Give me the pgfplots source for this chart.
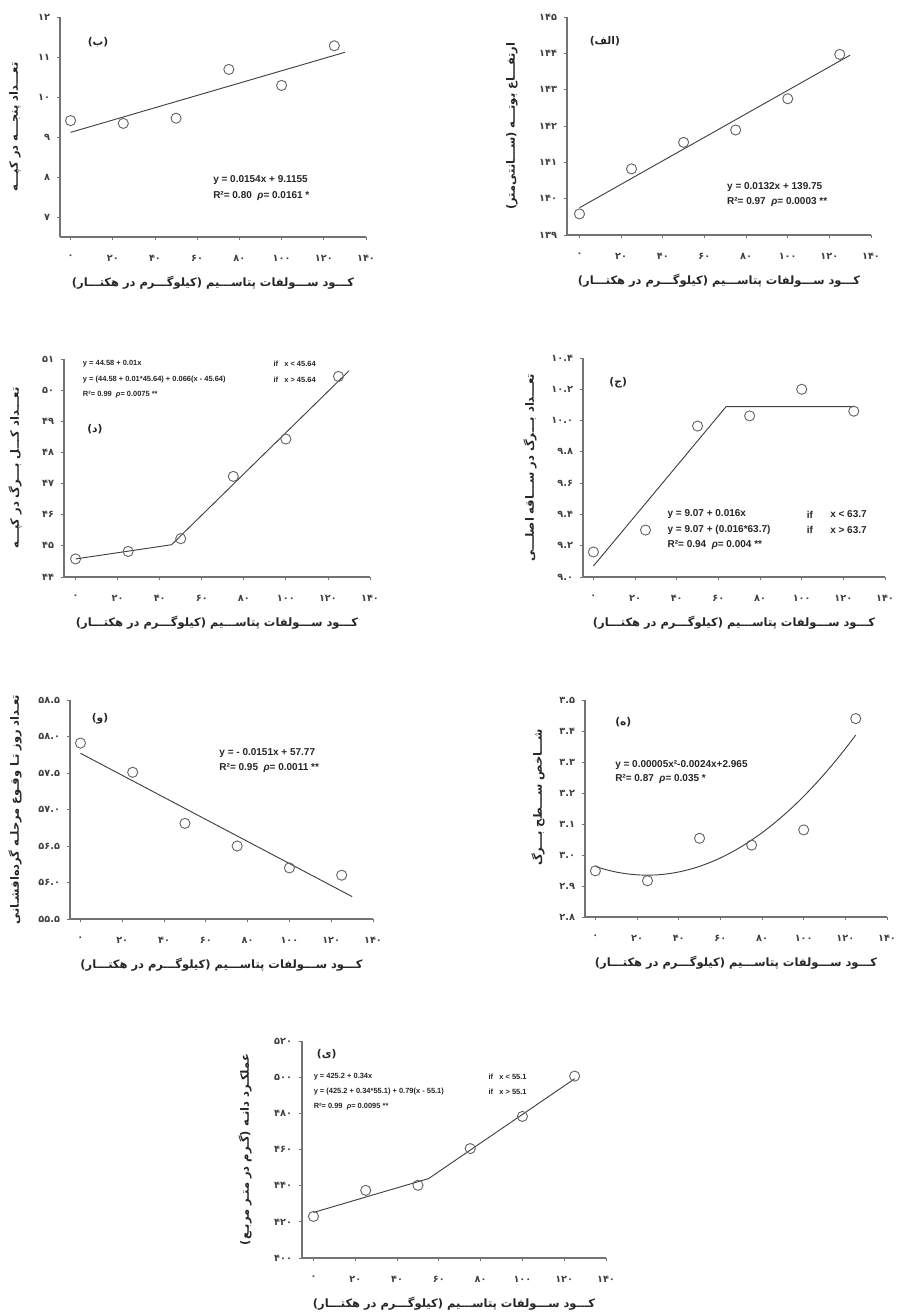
\documentclass[border=0pt]{standalone}
\usepackage{fontspec}
\usepackage{pgfplots}
\pgfplotsset{compat=1.18}
\TeXXeTstate=1
\newfontfamily\fa[Script=Arabic]{DejaVu Sans}
\newfontfamily\eqf{Liberation Sans}
\pgfplotsset{
  panel/.style={
    scale only axis,
    anchor=north west,
    axis x line*=bottom,
    axis y line*=left,
    xmax=140,
    xtick={0,20,40,60,80,100,120,140},
    xticklabels={۰,۲۰,۴۰,۶۰,۸۰,۱۰۰,۱۲۰,۱۴۰},
    tick align=outside,
    major tick length=2.5pt,
    axis line style={black!55, line width=0.8pt},
    tick style={black!55, line width=0.6pt},
    tick label style={font=\fa\bfseries\fontsize{7.3}{8}\selectfont, text=black!75},
    xticklabel style={yshift=-7.5pt},
    yticklabel style={xshift=-1.5pt},
    xlabel={\fa\bfseries\beginR کـــود ســـولفات پتاســـیم (کیلوگـــرم در هکتـــار)\endR},
    xlabel style={at={([yshift=-34.5pt]axis description cs:0.5,0)}, anchor=center, font=\fontsize{8.6}{9}\selectfont, text=black!85},
    ylabel style={anchor=center, font=\fontsize{8.6}{9}\selectfont, text=black!85},
    clip=false,
  },
  pts/.style={only marks, mark=o, mark size=3.8pt, mark options={black!60, line width=0.7pt}},
  fit/.style={black!75, line width=0.7pt, no marks},
}
\tikzset{
  eq/.style={anchor=west, font=\eqf\bfseries\fontsize{7.5}{9}\selectfont, text=black!85, inner sep=0pt},
  eqs/.style={anchor=west, font=\eqf\bfseries\fontsize{5.6}{7}\selectfont, text=black!85, inner sep=0pt},
  lett/.style={font=\fa\bfseries\fontsize{8}{9}\selectfont, text=black!85},
}
\begin{document}
\begin{tikzpicture}
\path[use as bounding box] (0,0) rectangle (673.5pt,-984.75pt);

% (ب)
\begin{axis}[panel, at={(45pt,-12.75pt)}, width=229.5pt, height=165pt,
  xmin=-5, ymin=6.5, ymax=12, ytick={7,8,9,10,11,12}, yticklabels={۷,۸,۹,۱۰,۱۱,۱۲},
  ylabel={\fa\bfseries\beginR تعـــداد پنجـــه در کپـــه\endR},
  ylabel style={at={([xshift=-33.75pt]axis description cs:0,0.5)}}]
\addplot[fit] coordinates {(0,9.1155)(130,11.1175)};
\addplot[pts] coordinates {(0,9.41)(25,9.34)(50,9.47)(75,10.69)(100,10.29)(125,11.28)};
\node[eq] at (axis cs:67.5,7.925) {y = 0.0154x + 9.1155};
\node[eq] at (axis cs:67.5,7.525) {R²= 0.80\ \ {\itshape ρ}= 0.0161 *};
\node[lett] at (axis cs:13,11.375) {\beginR(ب)\endR};
\end{axis}

% (الف)
\begin{axis}[panel, at={(425.25pt,-12.75pt)}, width=228pt, height=163.5pt,
  xmin=-6, ymin=139, ymax=145, ytick={139,140,141,142,143,144,145}, yticklabels={۱۳۹,۱۴۰,۱۴۱,۱۴۲,۱۴۳,۱۴۴,۱۴۵},
  ylabel={\fa\bfseries\beginR ارتفـــاع بوتـــه (ســـانتی‌متر)\endR},
  ylabel style={at={([xshift=-41.25pt]axis description cs:0,0.5)}}]
\addplot[fit] coordinates {(0,139.75)(130,143.95)};
\addplot[pts] coordinates {(0,139.58)(25,140.82)(50,141.55)(75,141.89)(100,142.75)(125,143.97)};
\node[eq] at (axis cs:70.8,140.32) {y = 0.0132x + 139.75};
\node[eq] at (axis cs:70.8,139.91) {R²= 0.97\ \ {\itshape ρ}= 0.0003 **};
\node[lett] at (axis cs:12.2,144.34) {\beginR(الف)\endR};
\end{axis}

% (د)
\begin{axis}[panel, at={(48pt,-269.25pt)}, width=229.5pt, height=163.5pt,
  xmin=-5.5, ymin=44, ymax=51, ytick={44,45,46,47,48,49,50,51}, yticklabels={۴۴,۴۵,۴۶,۴۷,۴۸,۴۹,۵۰,۵۱},
  ylabel={\fa\bfseries\beginR تعـــداد کـــل بـــرگ در کپـــه\endR},
  ylabel style={at={([xshift=-36.75pt]axis description cs:0,0.5)}}]
\addplot[fit] coordinates {(0,44.58)(45.64,45.036)(130,50.62)};
\addplot[pts] coordinates {(0,44.58)(25,44.82)(50,45.23)(75,47.23)(100,48.43)(125,50.44)};
\node[eqs] at (axis cs:3.4,50.86) {y = 44.58 + 0.01x};
\node[eqs] at (axis cs:94,50.86) {if\ \ \ x < 45.64};
\node[eqs] at (axis cs:3.4,50.33) {y = (44.58 + 0.01*45.64) + 0.066(x - 45.64)};
\node[eqs] at (axis cs:94,50.33) {if\ \ \ x > 45.64};
\node[eqs] at (axis cs:3.4,49.87) {R²= 0.99\ \ {\itshape ρ}= 0.0075 **};
\node[lett] at (axis cs:9.2,48.74) {\beginR(د)\endR};
\end{axis}

% (ج)
\begin{axis}[panel, at={(437.25pt,-268.5pt)}, width=226.5pt, height=164.25pt,
  xmin=-5, ymin=9, ymax=10.4, ytick={9,9.2,9.4,9.6,9.8,10,10.2,10.4}, yticklabels={۹.۰,۹.۲,۹.۴,۹.۶,۹.۸,۱۰.۰,۱۰.۲,۱۰.۴},
  ylabel={\fa\bfseries\beginR تعـــداد بـــرگ در ســـاقه اصلـــی\endR},
  ylabel style={at={([xshift=-39.75pt]axis description cs:0,0.5)}}]
\addplot[fit] coordinates {(0,9.07)(63.7,10.089)(125,10.089)};
\addplot[pts] coordinates {(0,9.16)(25,9.30)(50,9.965)(75,10.03)(100,10.20)(125,10.06)};
\node[eq] at (axis cs:35.5,9.40) {y = 9.07 + 0.016x};
\node[eq] at (axis cs:102.4,9.40) {if};
\node[eq] at (axis cs:113.6,9.40) {x < 63.7};
\node[eq] at (axis cs:35.5,9.30) {y = 9.07 + (0.016*63.7)};
\node[eq] at (axis cs:102.4,9.30) {if};
\node[eq] at (axis cs:113.6,9.30) {x > 63.7};
\node[eq] at (axis cs:35.5,9.204) {R²= 0.94\ \ {\itshape ρ}= 0.004 **};
\node[lett] at (axis cs:11.9,10.24) {\beginR(ج)\endR};
\end{axis}

% (و)
\begin{axis}[panel, at={(52.5pt,-525pt)}, width=227.25pt, height=164.25pt,
  xmin=-5, ymin=55.5, ymax=58.5, ytick={55.5,56,56.5,57,57.5,58,58.5}, yticklabels={۵۵.۵,۵۶.۰,۵۶.۵,۵۷.۰,۵۷.۵,۵۸.۰,۵۸.۵},
  ylabel={\fa\bfseries\beginR تعـداد روز تـا وقـوع مرحلـه گرده‌افشـانی\endR},
  ylabel style={at={([xshift=-41.25pt]axis description cs:0,0.5)}}]
\addplot[fit] coordinates {(0,57.77)(130,55.807)};
\addplot[pts] coordinates {(0,57.91)(25,57.51)(50,56.81)(75,56.50)(100,56.20)(125,56.10)};
\node[eq] at (axis cs:66.4,57.78) {y = - 0.0151x + 57.77};
\node[eq] at (axis cs:66.4,57.57) {R²= 0.95\ \ {\itshape ρ}= 0.0011 **};
\node[lett] at (axis cs:9.35,58.25) {\beginR(و)\endR};
\end{axis}

% (ه)
\begin{axis}[panel, at={(438.75pt,-525pt)}, width=226.5pt, height=162.75pt,
  xmin=-5, ymin=2.8, ymax=3.5, ytick={2.8,2.9,3.0,3.1,3.2,3.3,3.4,3.5}, yticklabels={۲.۸,۲.۹,۳.۰,۳.۱,۳.۲,۳.۳,۳.۴,۳.۵},
  ylabel={\fa\bfseries\beginR شـــاخص ســـطح بـــرگ\endR},
  ylabel style={at={([xshift=-35.25pt]axis description cs:0,0.55)}}]
\addplot[fit, smooth] coordinates {(0,2.963)(5,2.9529)(10,2.9450)(15,2.9394)(20,2.9361)(25,2.9350)(30,2.9362)(35,2.9396)(40,2.9453)(45,2.9532)(50,2.9634)(55,2.9759)(60,2.9906)(65,3.0075)(70,3.0267)(75,3.0482)(80,3.0719)(85,3.0979)(90,3.1262)(95,3.1566)(100,3.1894)(105,3.2244)(110,3.2617)(115,3.3012)(120,3.3430)(125,3.387)};
\addplot[pts] coordinates {(0,2.949)(25,2.917)(50,3.054)(75,3.032)(100,3.081)(125,3.440)};
\node[eq] at (axis cs:9.4,3.29) {y = 0.00005x²-0.0024x+2.965};
\node[eq] at (axis cs:9.4,3.244) {R²= 0.87\ \ {\itshape ρ}= 0.035 *};
\node[lett] at (axis cs:13.4,3.427) {\beginR(ه)\endR};
\end{axis}

% (ی)
\begin{axis}[panel, at={(226.5pt,-780.75pt)}, width=228pt, height=162.75pt,
  xmin=-5.5, ymin=400, ymax=520, ytick={400,420,440,460,480,500,520}, yticklabels={۴۰۰,۴۲۰,۴۴۰,۴۶۰,۴۸۰,۵۰۰,۵۲۰},
  ylabel={\fa\bfseries\beginR عملکـرد دانـه (گـرم در متـر مربـع)\endR},
  ylabel style={at={([xshift=-42.75pt]axis description cs:0,0.5)}}]
\addplot[fit] coordinates {(0,425.2)(55.1,443.93)(125,499.15)};
\addplot[pts] coordinates {(0,423.0)(25,437.4)(50,440.2)(75,460.5)(100,478.3)(125,500.6)};
\node[eqs] at (axis cs:0,500.3) {y = 425.2 + 0.34x};
\node[eqs] at (axis cs:83.7,500.3) {if\ \ \ x < 55.1};
\node[eqs] at (axis cs:0,491.97) {y = (425.2 + 0.34*55.1) + 0.79(x - 55.1)};
\node[eqs] at (axis cs:83.7,491.97) {if\ \ \ x > 55.1};
\node[eqs] at (axis cs:0,483.7) {R²= 0.99\ \ {\itshape ρ}= 0.0095 **};
\node[lett] at (axis cs:6.3,512.6) {\beginR(ی)\endR};
\end{axis}
\end{tikzpicture}
\end{document}
